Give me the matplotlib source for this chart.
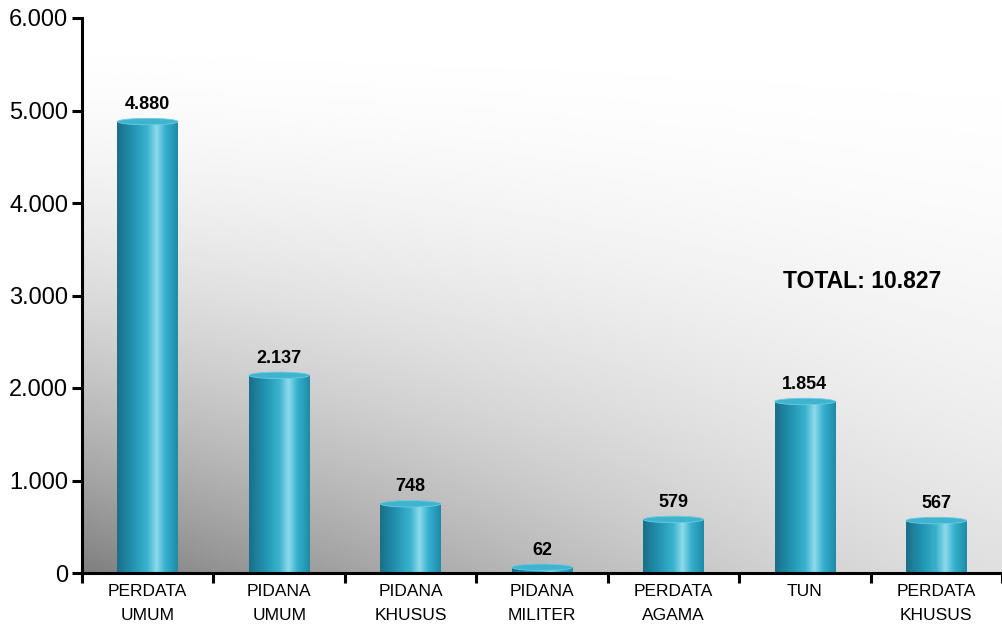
import numpy as np
import matplotlib.pyplot as plt
from matplotlib.colors import LinearSegmentedColormap
from matplotlib.patches import Ellipse

plt.rcParams['font.family'] = ['Liberation Sans', 'DejaVu Sans']

# data perkara
kategori = ['PERDATA\nUMUM', 'PIDANA\nUMUM', 'PIDANA\nKHUSUS', 'PIDANA\nMILITER',
            'PERDATA\nAGAMA', 'TUN', 'PERDATA\nKHUSUS']
jumlah = [4880, 2137, 748, 62, 579, 1854, 567]
total_label = 'TOTAL: 10.827'
yticks = [0, 1000, 2000, 3000, 4000, 5000, 6000]


def titik(v):
    # pemisah ribuan pakai titik
    return f'{v:,}'.replace(',', '.')


fig = plt.figure(figsize=(10.02, 6.27), dpi=100)
ax = fig.add_axes([82 / 1002, 54 / 627, 920 / 1002, 555 / 627])

n = len(kategori)
x0, x1 = -0.5, n - 0.5
ymax = 6000

# latar belakang: abu-abu gelap di kiri bawah, putih di kanan atas
u = np.linspace(0, 1, 300)
v = np.linspace(0, 1, 200)
U, V = np.meshgrid(u, v)
gelap = 0.5 * (1 - V) ** 1.8 * (0.25 + 0.75 * (1 - U) ** 1.3)
bg = 1 - gelap
ax.imshow(bg, extent=(x0, x1, 0, ymax), origin='lower', aspect='auto',
          cmap='gray', vmin=0, vmax=1, zorder=0, interpolation='bilinear')

# warna silinder
cyl = LinearSegmentedColormap.from_list('cyl', [
    (0.0, '#1c6f88'), (0.25, '#2192b0'), (0.5, '#3ab3ce'),
    (0.65, '#8fdaec'), (0.8, '#34b0cd'), (1.0, '#1f8ba8')])
grad = np.linspace(0, 1, 100).reshape(1, -1)

lebar = 0.46
tinggi_tutup = 70
for i, val in enumerate(jumlah):
    ax.imshow(grad, extent=(i - lebar / 2, i + lebar / 2, 0, val), aspect='auto',
              cmap=cyl, zorder=2, interpolation='bilinear')
    ax.add_patch(Ellipse((i, val), lebar, tinggi_tutup, facecolor='#3fb4cf',
                         edgecolor='#6ecbe0', lw=0.6, zorder=3))
    ax.annotate(titik(val), (i, val), xytext=(0, 6), textcoords='offset points',
                ha='center', va='bottom', fontsize=13, fontweight='bold', zorder=4)

ax.text(0.762, 0.526, total_label, transform=ax.transAxes, ha='left', va='center',
        fontsize=16.5, fontweight='bold')

ax.set_xlim(x0, x1)
ax.set_ylim(0, ymax)

for s in ['top', 'right']:
    ax.spines[s].set_visible(False)
for s in ['left', 'bottom']:
    ax.spines[s].set_linewidth(2.2)

ax.set_yticks(yticks)
ax.set_yticklabels([titik(t) for t in yticks])
ax.tick_params(axis='y', direction='out', length=7, width=2.2, labelsize=17, pad=3)

# garis batas kategori sebagai tick utama, nama kategori di tengah
ax.set_xticks(np.arange(n + 1) - 0.5)
ax.set_xticklabels([])
ax.set_xticks(np.arange(n), minor=True)
ax.set_xticklabels(kategori, minor=True, fontsize=12.5, linespacing=1.75)
ax.tick_params(axis='x', which='minor', length=0, pad=8)
ax.tick_params(axis='x', which='major', direction='out', length=7, width=2.2)

fig.savefig('out.png', dpi=100)
